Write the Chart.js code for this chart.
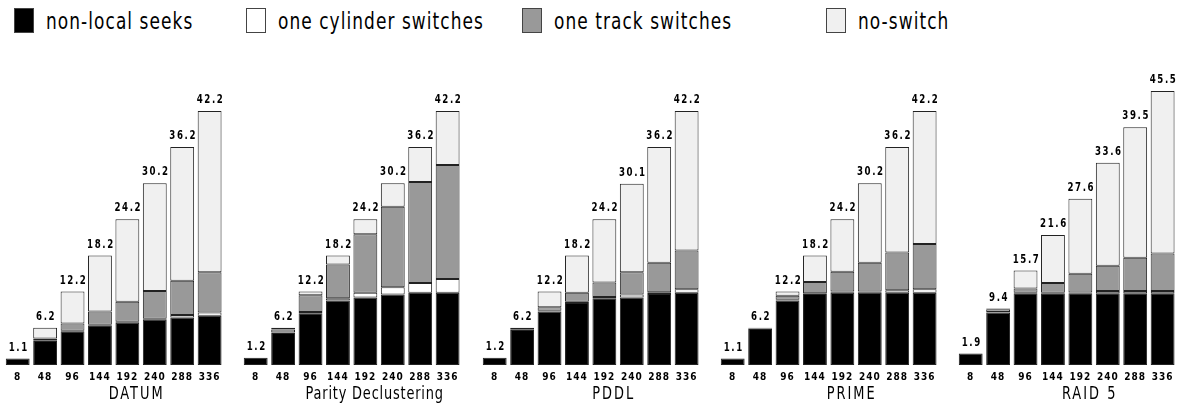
<!DOCTYPE html>
<html>
<head>
<meta charset="utf-8">
<script src="https://cdn.jsdelivr.net/npm/chart.js@4/dist/chart.umd.min.js"></script>
<style>
    body { margin: 0; background: #fff; width: 1178px; height: 409px; overflow: hidden; position: relative; font-family: 'DejaVu Sans Condensed', 'DejaVu Sans', sans-serif; }
    .legend { position: absolute; top: 0; left: 0; height: 45px; width: 1178px; }
    .item { position: absolute; top: 8px; height: 25px; display: flex; align-items: center; color: #000; white-space: nowrap; }
    .box { width: 20px; height: 25px; border: 1px solid #444; box-sizing: border-box; margin-right: 12px; flex: none; }
    .txt { display: inline-block; font-size: 23px; letter-spacing: 1.3px; transform: scaleX(0.82); transform-origin: left center; }
    .panel { position: absolute; top: 60px; width: 221px; height: 349px; }
</style>
</head>
<body>
<div class="legend">
    <div class="item" style="left:14px"><span class="box" style="background:#000"></span><span class="txt">non-local seeks</span></div>
    <div class="item" style="left:246px"><span class="box" style="background:#fff"></span><span class="txt">one cylinder switches</span></div>
    <div class="item" style="left:522px"><span class="box" style="background:#999"></span><span class="txt">one track switches</span></div>
    <div class="item" style="left:826px"><span class="box" style="background:#f0f0f0"></span><span class="txt">no-switch</span></div>
</div>
<div class="panel" style="left:4px"><canvas id="c0"></canvas></div>
<div class="panel" style="left:242px"><canvas id="c1"></canvas></div>
<div class="panel" style="left:481px"><canvas id="c2"></canvas></div>
<div class="panel" style="left:719px"><canvas id="c3"></canvas></div>
<div class="panel" style="left:957px"><canvas id="c4"></canvas></div>
<script>
// stripe units per request size
const sizes = ['8', '48', '96', '144', '192', '240', '288', '336'];
const layouts = ['DATUM', 'Parity Declustering', 'PDDL', 'PRIME', 'RAID 5'];

// DATUM
const datumSeeks    = [1.1, 4.0, 5.6, 6.6, 7.0, 7.5, 7.9, 8.2];
const datumCylinder = [0, 0.1, 0.1, 0.1, 0.2, 0.2, 0.4, 0.5];
const datumTrack    = [0, 0.3, 1.2, 2.2, 3.3, 4.6, 5.7, 6.7];
const datumNoSwitch = [0, 1.8, 5.3, 9.3, 13.7, 17.9, 22.2, 26.8];
const datumTotal    = ['1.1', '6.2', '12.2', '18.2', '24.2', '30.2', '36.2', '42.2'];

// Parity Declustering
const pdSeeks    = [1.2, 5.3, 8.6, 10.7, 11.2, 11.7, 12.0, 12.0];
const pdCylinder = [0, 0.1, 0.2, 0.4, 0.8, 1.2, 1.6, 2.3];
const pdTrack    = [0, 0.5, 2.8, 5.6, 9.7, 13.4, 16.8, 18.9];
const pdNoSwitch = [0, 0.3, 0.6, 1.5, 2.5, 3.9, 5.8, 9.0];
const pdTotal    = ['1.2', '6.2', '12.2', '18.2', '24.2', '30.2', '36.2', '42.2'];

// PDDL
const pddlSeeks    = [1.2, 5.8, 8.9, 10.3, 11.1, 11.2, 11.8, 12.0];
const pddlCylinder = [0, 0.05, 0.1, 0.2, 0.2, 0.5, 0.3, 0.6];
const pddlTrack    = [0, 0.3, 0.6, 1.5, 2.4, 3.7, 4.9, 6.4];
const pddlNoSwitch = [0, 0.05, 2.6, 6.2, 10.5, 14.7, 19.2, 23.2];
const pddlTotal    = ['1.2', '6.2', '12.2', '18.2', '24.2', '30.1', '36.2', '42.2'];

// PRIME
const primeSeeks    = [1.1, 6.0, 10.7, 11.8, 12.0, 12.0, 12.0, 12.0];
const primeCylinder = [0, 0.05, 0.15, 0.1, 0.2, 0.2, 0.4, 0.6];
const primeTrack    = [0, 0.1, 0.65, 1.9, 3.3, 4.8, 6.3, 7.5];
const primeNoSwitch = [0, 0.05, 0.7, 4.4, 8.7, 13.2, 17.5, 22.1];
const primeTotal    = ['1.1', '6.2', '12.2', '18.2', '24.2', '30.2', '36.2', '42.2'];

// RAID 5
const raidSeeks    = [1.9, 8.7, 11.9, 11.9, 11.9, 11.9, 11.9, 11.9];
const raidCylinder = [0, 0.1, 0.1, 0.1, 0.15, 0.4, 0.4, 0.4];
const raidTrack    = [0, 0.45, 0.7, 1.6, 3.1, 4.2, 5.5, 6.2];
const raidNoSwitch = [0, 0.15, 3.0, 8.0, 12.45, 17.1, 21.7, 27.0];
const raidTotal    = ['1.9', '9.4', '15.7', '21.6', '27.6', '33.6', '39.5', '45.5'];

const groups = [
    [datumSeeks, datumCylinder, datumTrack, datumNoSwitch, datumTotal],
    [pdSeeks, pdCylinder, pdTrack, pdNoSwitch, pdTotal],
    [pddlSeeks, pddlCylinder, pddlTrack, pddlNoSwitch, pddlTotal],
    [primeSeeks, primeCylinder, primeTrack, primeNoSwitch, primeTotal],
    [raidSeeks, raidCylinder, raidTrack, raidNoSwitch, raidTotal]
];

const fillColors = ['#000000', '#ffffff', '#999999', '#f0f0f0'];
const seriesNames = ['non-local seeks', 'one cylinder switches', 'one track switches', 'no-switch'];
const fontFamily = "'DejaVu Sans Condensed', 'DejaVu Sans', sans-serif";

// draws narrow text by squeezing the context horizontally
function narrowText(ctx, text, x, y, squeeze) {
    ctx.save();
    ctx.translate(x, y);
    ctx.scale(squeeze, 1);
    ctx.fillText(text, 0, 0);
    ctx.restore();
}

// totals above each stack, group name under the ticks
const totalLabels = {
    id: 'totalLabels',
    beforeDraw(chart) {
        chart.ctx.letterSpacing = '1px';
    },
    afterDraw(chart, args, opts) {
        const ctx = chart.ctx;
        const area = chart.chartArea;
        const meta = chart.getDatasetMeta(chart.data.datasets.length - 1);
        ctx.save();
        ctx.fillStyle = '#000';
        ctx.textAlign = 'center';
        ctx.letterSpacing = '2px';
        ctx.font = 'bold 12px ' + fontFamily;
        ctx.textBaseline = 'bottom';
        meta.data.forEach((bar, i) => {
            narrowText(ctx, opts.labels[i], bar.x + 1, bar.y - 5, 0.8);
        });
        ctx.letterSpacing = opts.title === opts.title.toUpperCase() ? '2.5px' : '1px';
        ctx.font = '18px ' + fontFamily;
        ctx.textBaseline = 'middle';
        narrowText(ctx, opts.title, (area.left + area.right) / 2 + 23, area.bottom + 29, 0.8);
        ctx.restore();
    }
};

groups.forEach((g, k) => {
    new Chart(document.getElementById('c' + k), {
        type: 'bar',
        data: {
            labels: sizes,
            datasets: seriesNames.map((name, s) => ({
                label: name,
                data: g[s],
                backgroundColor: fillColors[s],
                borderColor: '#222',
                borderWidth: 1,
                borderSkipped: false,
                barPercentage: 0.87,
                categoryPercentage: 1
            }))
        },
        options: {
            responsive: true,
            maintainAspectRatio: false,
            animation: false,
            layout: { padding: { top: 16, left: 0, right: 0, bottom: 0 } },
            plugins: {
                legend: { display: false },
                tooltip: { enabled: false },
                totalLabels: { labels: g[4], title: layouts[k] }
            },
            scales: {
                x: {
                    stacked: true,
                    grid: { display: false, drawTicks: false },
                    border: { display: false },
                    ticks: {
                        color: '#000',
                        padding: 6,
                        maxRotation: 0,
                        autoSkip: false,
                        font: { family: fontFamily, size: 10, weight: 'bold' }
                    },
                    afterFit(scale) { scale.height = 44; }
                },
                y: {
                    display: false,
                    stacked: true,
                    min: 0,
                    max: 48
                }
            }
        },
        plugins: [totalLabels]
    });
});
</script>
</body>
</html>
